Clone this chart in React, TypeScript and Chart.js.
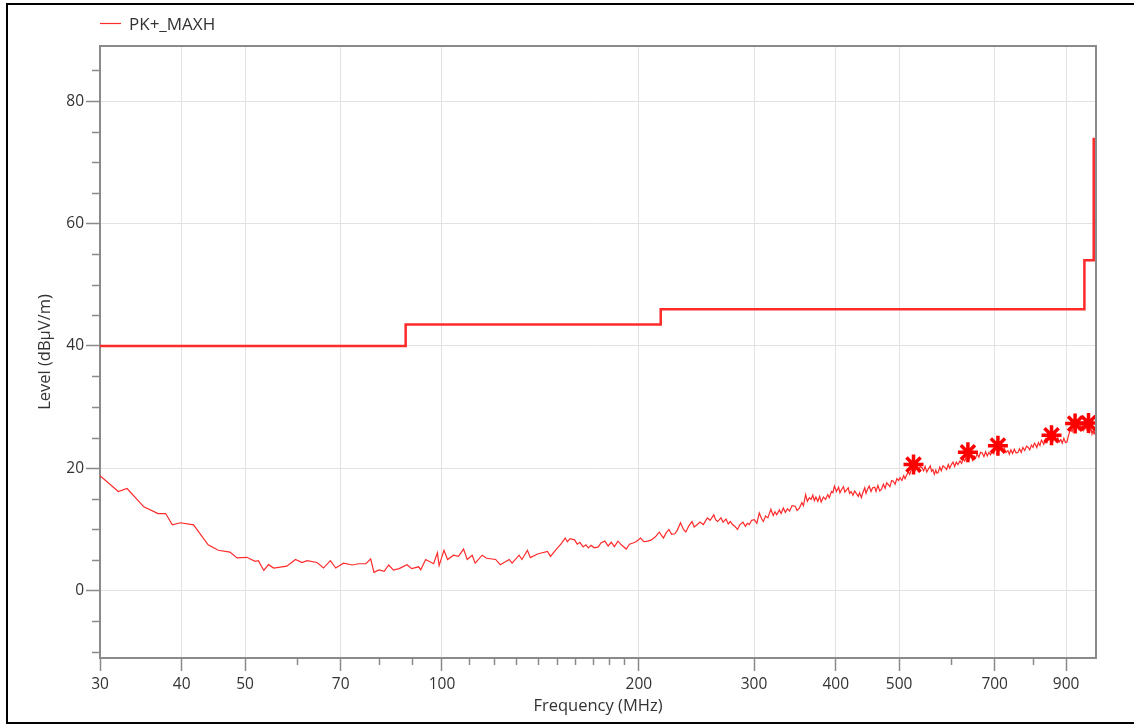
import React, { useEffect, useRef } from "react";
import { Chart, registerables } from "chart.js";

Chart.register(...registerables);

// ---- Data ----
const traceFreq = [
  30, 32.0, 33.0, 35.0, 36.8, 37.8, 38.7, 39.8, 41.7, 43.9, 45.5, 47.4, 48.6, 50.3, 51.8, 52.4, 53.4, 54.3, 55.3, 57.9,
  59.7, 61.1, 62.2, 64.4, 65.9, 67.5, 68.8, 70.7, 72.9, 74.6, 76.5, 77.8, 78.7, 80.1, 81.6, 82.9, 84.3, 86.0, 88.4, 89.9,
  92.1, 92.8, 94.4, 97.1, 98.4, 99.0, 100.7, 102.0, 104.2, 106.0, 107.9, 109.3, 111.2, 112.4, 115.2, 117.0, 120.8, 122.8, 126.7, 128.0,
  131.2, 132.5, 135.1, 136.5, 140.0, 145.0, 146.5,
  150.2, 152, 154.3, 155.5, 157, 159.5, 161, 162.5, 164.4, 166, 167.4, 169, 171, 173.4, 175, 177.4, 179.5, 181.5, 183.5, 185.8,
  188, 191.3, 193.5, 195.9, 198, 201.2, 203.5, 206.3, 209, 212, 214.9, 218.1, 220, 222.3, 224.5, 227, 229, 231.6, 234, 236,
  238.5, 241.2, 243, 245, 248, 251, 254.5, 257, 260.4, 262, 264, 267, 269, 271.8, 274, 276, 278.1, 280.5, 283.1, 285.5,
  288.5, 291, 293, 295.0, 297.5, 300.3, 303, 305.6, 308, 310, 312.5, 315, 318.3, 321, 323, 325, 328, 330, 332.6, 335,
  337.5, 340, 343, 346.9, 349, 352, 355, 357, 359.8, 362, 364.5, 366.7, 369, 371, 373, 375.5, 378, 380, 383, 386,
  388.9, 391, 394, 396, 398.2, 401, 404, 406, 408.2, 411, 413, 415, 418, 420, 422.2, 425, 427.5, 430, 433, 435,
  437.8, 440, 443, 445, 447, 450, 453, 455.5, 458.8, 461, 464, 467, 470, 473, 476, 478.5, 481.2, 484, 487, 490,
  493, 496, 499, 501.7, 505, 508, 510.5, 513.4, 516.5, 519, 522, 525.9, 529, 532, 535, 538.5, 542, 545, 548, 551,
  554.5, 558, 560.5, 563.1, 566, 569, 571, 573.6, 577, 580, 583.5, 587.8, 591, 594.5, 597.5, 601, 604.5, 608, 611.5, 615,
  619.5, 623, 626.5, 630, 633.5, 636.9, 640.5, 644, 647.5, 651, 654.6, 658, 662, 666, 670.1, 674, 678, 682, 686, 690,
  694, 698, 702, 705, 708.1, 712, 716, 720, 724, 728.5, 733.4, 737, 741, 745.5, 750, 755, 760, 764, 768.5, 773,
  778, 783, 787.9, 792, 796.5, 801, 805, 808, 812, 816.5, 821, 825, 827.5, 832, 837, 841.5, 846, 850.5, 855.4, 860,
  864.5, 869, 874, 878.5, 883.6, 888, 893, 898, 903, 907, 911, 915, 919.5, 924, 929.4, 933, 937, 941.5, 946, 950.4,
  954, 958, 962, 966, 970, 974.3, 978, 982, 986, 990, 993, 996, 1000,
];
const traceLevel = [
  18.8, 16.2, 16.7, 13.7, 12.6, 12.6, 10.75, 11.1, 10.75, 7.5, 6.6, 6.3, 5.35, 5.45, 4.8, 4.9, 3.3, 4.25, 3.7, 4.0,
  5.1, 4.6, 4.9, 4.6, 3.7, 4.9, 3.7, 4.5, 4.2, 4.4, 4.4, 5.2, 3.0, 3.4, 3.15, 4.2, 3.35, 3.6, 4.25, 3.6,
  3.9, 3.4, 5.1, 4.4, 6.2, 4.1, 6.6, 5.1, 5.8, 5.6, 6.8, 5.1, 5.8, 4.5, 5.8, 5.3, 5.1, 4.25, 5.1, 4.5,
  5.8, 5.1, 6.6, 5.4, 6.0, 6.4, 5.6,
  7.0, 7.6, 8.6, 8.0, 8.5, 8.3, 7.6, 7.9, 7.15, 7.5, 7.0, 7.4, 7.0, 7.15, 7.8, 8.1, 7.3, 7.9, 7.2, 8.1,
  7.5, 6.8, 7.6, 7.8, 8.0, 8.6, 8.0, 8.1, 8.3, 8.8, 9.55, 8.6, 9.4, 10.0, 9.2, 9.3, 9.9, 11.1, 10.0, 9.6,
  10.6, 11.3, 10.4, 10.7, 11.2, 10.8, 11.9, 11.5, 12.4, 11.6, 11.3, 11.9, 11.2, 11.7, 10.9, 11.3, 10.8, 10.5, 10.0, 10.8,
  11.2, 10.5, 11.0, 10.8, 11.5, 11.6, 11.0, 12.7, 11.8, 11.3, 12.2, 11.9, 13.3, 12.3, 12.9, 12.4, 13.2, 12.6, 13.5, 12.8,
  13.4, 13.0, 13.9, 13.8, 13.1, 13.5, 14.4, 13.9, 15.7, 14.6, 15.2, 14.9, 15.6, 14.7, 15.3, 14.6, 15.4, 14.5, 15.3, 14.9,
  15.7, 15.2, 16.2, 16.0, 17.1, 16.2, 16.9, 16.0, 16.5, 17.0, 16.1, 16.4, 16.8, 15.9, 16.2, 15.6, 16.3, 15.9, 15.4, 16.0,
  15.2, 16.0, 16.8, 15.9, 16.5, 17.1, 16.2, 16.8, 16.9, 16.2, 17.2, 16.3, 16.6, 17.4, 16.7, 17.6, 17.35, 17.0, 18.0, 17.9,
  17.4, 18.3, 18.0, 18.45, 18.0, 18.8, 18.3, 18.9, 19.4, 19.0, 19.8, 20.2, 19.6, 20.1, 19.5, 20.3, 20.1, 19.6, 20.3, 19.4,
  19.9, 20.4, 19.5, 19.8, 19.0, 19.7, 19.2, 19.3, 20.2, 19.6, 20.4, 20.1, 19.8, 20.6, 20.0, 20.6, 21.0, 20.3, 21.0, 20.6,
  21.2, 20.8, 21.5, 21.2, 22.0, 22.3, 21.6, 22.1, 21.3, 22.0, 21.7, 22.4, 21.8, 22.6, 22.5, 21.9, 22.7, 22.0, 22.6, 22.2,
  22.9, 22.4, 23.3, 23.0, 23.5, 22.9, 23.5, 22.8, 23.3, 22.6, 22.9, 22.3, 23.0, 22.4, 23.1, 22.5, 22.6, 23.2, 22.6, 23.4,
  22.9, 23.6, 23.4, 23.0, 23.8, 23.4, 24.1, 23.9, 23.4, 24.2, 23.7, 24.6, 24.4, 23.9, 24.8, 24.2, 25.0, 24.6, 25.1, 24.5,
  25.2, 24.4, 25.0, 24.3, 24.7, 24.1, 24.9, 24.2, 24.3, 25.2, 25.9, 26.3, 26.0, 26.8, 27.0, 26.2, 27.1, 26.4, 27.0, 26.6,
  27.2, 26.3, 27.1, 26.4, 27.2, 27.1, 26.0, 26.8, 25.6, 26.2, 25.6, 25.9, 25.2,
];

const limitFreq = [30, 88, 216, 960, 992];
const limitLevel = [40, 43.5, 46, 54, 74];

const markerFreq = [526, 637, 708, 855, 929, 974];
const markerLevel = [20.6, 22.6, 23.7, 25.4, 27.3, 27.4];

const xMajorTicks = [30, 40, 50, 70, 100, 200, 300, 400, 500, 700, 900];
const xMinorTicks = [60, 80, 90, 110, 120, 130, 140, 150, 160, 170, 180, 190, 600, 800];
const yMajorTicks = [0, 20, 40, 60, 80];
const yMinorTicks = [-10, -5, 5, 10, 15, 25, 30, 35, 45, 50, 55, 65, 70, 75, 85];

const legendLabel = "PK+_MAXH";
const xTitle = "Frequency (MHz)";
const yTitle = "Level (dBµV/m)";

const FONT = "'Open Sans', 'Noto Sans', sans-serif";
const RED = "#ff2a2a";

const W = 1134;
const H = 725;

export default function App() {
  const ref = useRef<HTMLCanvasElement | null>(null);

  useEffect(() => {
    const canvas = ref.current;
    if (!canvas) return;

    const decorPlugin = {
      id: "decor",
      afterDraw(chart: any) {
        const { ctx, chartArea, scales } = chart;
        const xs = scales.x;
        const ys = scales.y;
        ctx.save();
        // plot frame (top & right)
        ctx.strokeStyle = "#8a8a8a";
        ctx.lineWidth = 2;
        ctx.beginPath();
        ctx.moveTo(chartArea.left, chartArea.top);
        ctx.lineTo(chartArea.right, chartArea.top);
        ctx.lineTo(chartArea.right, chartArea.bottom);
        ctx.stroke();
        // minor ticks
        ctx.lineWidth = 1.5;
        ctx.beginPath();
        xMinorTicks.forEach((v) => {
          const px = Math.round(xs.getPixelForValue(v)) + 0.5;
          ctx.moveTo(px, chartArea.bottom);
          ctx.lineTo(px, chartArea.bottom + 7);
        });
        yMinorTicks.forEach((v) => {
          const py = Math.round(ys.getPixelForValue(v)) + 0.5;
          ctx.moveTo(chartArea.left, py);
          ctx.lineTo(chartArea.left - 8, py);
        });
        ctx.stroke();
        // legend
        ctx.strokeStyle = RED;
        ctx.lineWidth = 1.2;
        ctx.beginPath();
        ctx.moveTo(100, 23.5);
        ctx.lineTo(121, 23.5);
        ctx.stroke();
        ctx.fillStyle = "#333";
        ctx.font = `17px ${FONT}`;
        ctx.textBaseline = "middle";
        ctx.textAlign = "left";
        ctx.fillText(legendLabel, 129, 25);
        ctx.restore();
      },
    };

    const chart = new Chart(canvas, {
      type: "line",
      data: {
        datasets: [
          {
            label: "Limit",
            data: limitFreq.map((f, i) => ({ x: f, y: limitLevel[i] })),
            borderColor: RED,
            borderWidth: 2.5,
            pointRadius: 0,
            stepped: true,
            fill: false,
            order: 2,
          },
          {
            label: legendLabel,
            data: traceFreq.map((f, i) => ({ x: f, y: traceLevel[i] })),
            borderColor: RED,
            borderWidth: 1.2,
            pointRadius: 0,
            tension: 0,
            fill: false,
            order: 1,
          },
          {
            label: "Markers",
            data: markerFreq.map((f, i) => ({ x: f, y: markerLevel[i] })),
            showLine: false,
            pointStyle: "star",
            pointRadius: 10,
            pointBorderWidth: 3.5,
            pointBorderColor: "#ff0000",
            pointBackgroundColor: "#ff0000",
            borderColor: "#ff0000",
            order: 0,
          },
        ],
      },
      options: {
        animation: false,
        responsive: false,
        devicePixelRatio: 1,
        layout: { padding: { top: 46, right: 38, left: 0, bottom: 0 } },
        plugins: {
          legend: { display: false },
          tooltip: { enabled: false },
        },
        scales: {
          x: {
            type: "logarithmic",
            min: 30,
            max: 1000,
            afterBuildTicks: (scale: any) => {
              scale.ticks = xMajorTicks.map((v) => ({ value: v }));
            },
            afterFit: (scale: any) => {
              scale.height = 67;
            },
            ticks: {
              autoSkip: false,
              maxRotation: 0,
              padding: 4,
              color: "#333",
              font: { family: FONT, size: 15.5 },
              callback: (v: any) => String(v),
            },
            grid: {
              color: "#e2e2e2",
              lineWidth: 1,
              tickColor: "#8a8a8a",
              tickLength: 13,
              tickWidth: 1.5,
            },
            border: { display: true, color: "#8a8a8a", width: 2 },
            title: {
              display: true,
              text: xTitle,
              color: "#333",
              font: { family: FONT, size: 16.5 },
              padding: { top: 0, bottom: 9 },
            },
          },
          y: {
            type: "linear",
            min: -11,
            max: 89,
            afterBuildTicks: (scale: any) => {
              scale.ticks = yMajorTicks.map((v) => ({ value: v }));
            },
            afterFit: (scale: any) => {
              scale.width = 100;
            },
            ticks: {
              padding: 2,
              color: "#333",
              font: { family: FONT, size: 15.5 },
              callback: (v: any) => String(v),
            },
            grid: {
              color: "#e2e2e2",
              lineWidth: 1,
              tickColor: "#8a8a8a",
              tickLength: 14,
              tickWidth: 1.5,
            },
            border: { display: true, color: "#8a8a8a", width: 2 },
            title: {
              display: true,
              text: yTitle,
              color: "#333",
              font: { family: FONT, size: 16.5 },
              padding: { top: 35, bottom: 0 },
            },
          },
        },
      },
      plugins: [decorPlugin],
    });

    return () => {
      chart.destroy();
    };
  }, []);

  return (
    <div style={{ position: "fixed", left: 0, top: 0, width: W, height: H, background: "#fff" }}>
      <canvas ref={ref} width={W} height={H} style={{ position: "absolute", left: 0, top: 0, width: W, height: H }} />
      <div
        style={{
          position: "absolute",
          left: 6,
          top: 3,
          width: W - 6,
          height: 721,
          boxSizing: "border-box",
          borderTop: "2px solid #000",
          borderLeft: "2px solid #000",
          borderBottom: "2px solid #000",
          pointerEvents: "none",
        }}
      />
    </div>
  );
}
